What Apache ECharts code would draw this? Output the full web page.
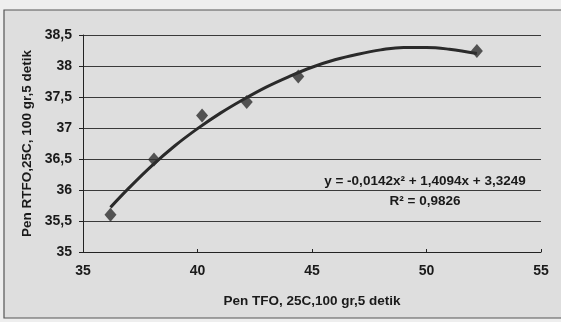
<!DOCTYPE html>
<html><head><meta charset="utf-8">
<script src="https://cdn.jsdelivr.net/npm/echarts@6/dist/echarts.min.js"></script>
<style>html,body{margin:0;padding:0;background:#eeeeee;}#c{width:561px;height:322px;}</style>
</head><body><div id="c"></div>
<script>
const xValues = [36.2, 38.1, 40.2, 42.15, 44.4, 52.2];
const yValues = [35.6, 36.49, 37.2, 37.42, 37.83, 38.24];
const trendX = [36.2, 37, 38, 39, 40, 41, 42, 43, 44, 45, 46, 47, 48, 49, 50, 51, 52.2];
const trendY = [35.72, 36.03, 36.39, 36.71, 36.99, 37.24, 37.46, 37.66, 37.83, 37.98, 38.1, 38.19, 38.26, 38.3, 38.3, 38.27, 38.2];
const xTicks = [35, 40, 45, 50, 55];
const yTicks = [35, 35.5, 36, 36.5, 37, 37.5, 38, 38.5];
const equationText = 'y = -0,0142x² + 1,4094x + 3,3249';
const r2Text = 'R² = 0,9826';
const xName = 'Pen TFO, 25C,100 gr,5 detik';
const yName = 'Pen RTFO,25C, 100 gr,5 detik';

const fmt = v => String(v).replace('.', ',');
const chart = echarts.init(document.getElementById('c'), null, {renderer: 'canvas'});
const font = '"Liberation Sans", Arial, sans-serif';
chart.setOption({
  animation: false,
  backgroundColor: '#eeeeee',
  graphic: [
    {type: 'rect', z: -10, shape: {x: 4, y: 10, width: 570, height: 308},
     style: {fill: '#dedede', stroke: '#555', lineWidth: 1.2}},
    {type: 'text', x: 425, y: 181, z: 10, style: {text: equationText, font: 'bold 13.5px ' + font, fill: '#1a1a1a', align: 'center', verticalAlign: 'middle'}},
    {type: 'text', x: 425, y: 201, z: 10, style: {text: r2Text, font: 'bold 13.5px ' + font, fill: '#1a1a1a', align: 'center', verticalAlign: 'middle'}}
  ],
  grid: {left: 83, right: 20, top: 35, bottom: 70, containLabel: false},
  xAxis: {
    type: 'value', min: 35, max: 55, interval: 5,
    name: xName, nameLocation: 'middle', nameGap: 42,
    nameTextStyle: {fontFamily: font, fontWeight: 'bold', fontSize: 13.5, color: '#1a1a1a'},
    axisLine: {show: true, lineStyle: {color: '#222', width: 1}},
    axisTick: {show: true, inside: true, length: 3, lineStyle: {color: '#222'}},
    axisLabel: {fontFamily: font, fontWeight: 'bold', fontSize: 14, color: '#1a1a1a', margin: 12,
      formatter: v => xTicks.includes(v) ? fmt(v) : ''},
    splitLine: {show: false}
  },
  yAxis: {
    type: 'value', min: 35, max: 38.5, interval: 0.5,
    name: yName, nameLocation: 'middle', nameGap: 47, nameRotate: 90,
    nameTextStyle: {fontFamily: font, fontWeight: 'bold', fontSize: 13.5, color: '#1a1a1a'},
    axisLine: {show: true, lineStyle: {color: '#222', width: 1}},
    axisTick: {show: true, length: 4, lineStyle: {color: '#222'}},
    axisLabel: {fontFamily: font, fontWeight: 'bold', fontSize: 14, color: '#1a1a1a', margin: 11,
      formatter: v => yTicks.includes(v) ? fmt(v) : ''},
    splitLine: {show: true, lineStyle: {color: '#3a3a3a', width: 1}}
  },
  series: [
    {type: 'line', data: trendX.map((x, i) => [x, trendY[i]]), smooth: 0.4, symbol: 'none',
     lineStyle: {color: '#2a2a2a', width: 3}, z: 3},
    {type: 'scatter', data: xValues.map((x, i) => [x, yValues[i]]), symbol: 'diamond', symbolSize: [12, 14],
     itemStyle: {color: '#2e2e2e'}, z: 4}
  ]
});
</script></body></html>
